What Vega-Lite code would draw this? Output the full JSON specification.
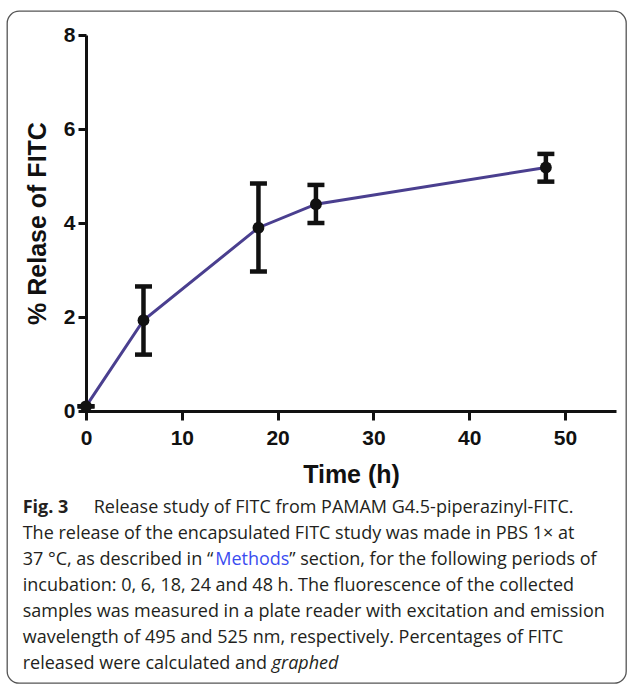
{
  "$schema": "https://vega.github.io/schema/vega-lite/v6.json",
  "width": 619,
  "height": 672,
  "autosize": {"type": "none"},
  "padding": {"left": 7, "top": 11, "right": 1, "bottom": 2},
  "background": "white",
  "config": {
    "view": {"stroke": "#555555", "strokeWidth": 1.3, "cornerRadius": 12},
    "font": "Liberation Sans"
  },
  "datasets": {
    "release": [
      {"time": 0, "release": 0.1, "lo": 0.1, "hi": 0.1},
      {"time": 6, "release": 1.93, "lo": 1.2, "hi": 2.65},
      {"time": 18, "release": 3.9, "lo": 2.97, "hi": 4.84},
      {"time": 24, "release": 4.4, "lo": 4.0, "hi": 4.81},
      {"time": 48, "release": 5.18, "lo": 4.88, "hi": 5.47}
    ],
    "caption": [
      {"line": 1, "part": "lead", "text": "Fig. 3"},
      {"line": 1, "part": "after_lead", "text": "Release study of FITC from PAMAM G4.5-piperazinyl-FITC."},
      {"line": 2, "part": "body", "text": "The release of the encapsulated FITC study was made in PBS 1× at"},
      {"line": 3, "part": "body", "text": "37 °C, as described in “"},
      {"line": 3, "part": "link", "text": "Methods"},
      {"line": 3, "part": "after_link", "text": "” section, for the following periods of"},
      {"line": 4, "part": "body", "text": "incubation: 0, 6, 18, 24 and 48 h. The fluorescence of the collected"},
      {"line": 5, "part": "body", "text": "samples was measured in a plate reader with excitation and emission"},
      {"line": 6, "part": "body", "text": "wavelength of 495 and 525 nm, respectively. Percentages of FITC"},
      {"line": 7, "part": "body", "text": "released were calculated and"},
      {"line": 7, "part": "emph", "text": "graphed"}
    ]
  },
  "layer": [
    {
      "data": {"name": "release"},
      "encoding": {
        "x": {
          "field": "time",
          "type": "quantitative",
          "scale": {"domain": [0, 55.32], "range": [79, 609], "nice": false, "zero": false},
          "axis": {
            "orient": "bottom",
            "offset": -272,
            "values": [0, 10, 20, 30, 40, 50],
            "format": "d",
            "grid": false,
            "domainWidth": 3,
            "domainColor": "#111111",
            "tickWidth": 3,
            "tickColor": "#111111",
            "tickSize": 9,
            "labelFont": "Liberation Sans",
            "labelFontWeight": "bold",
            "labelFontSize": 21,
            "labelColor": "#111111",
            "labelPadding": 7,
            "labelFlush": false,
            "labelOverlap": false,
            "title": "Time (h)",
            "titleFont": "Liberation Sans",
            "titleFontSize": 25,
            "titleFontWeight": "bold",
            "titleColor": "#111111",
            "titlePadding": 14
          }
        }
      },
      "layer": [
        {
          "mark": {"type": "line", "color": "#4a3f8f", "strokeWidth": 3},
          "encoding": {
            "y": {
              "field": "release",
              "type": "quantitative",
              "title": "% Relase of FITC",
              "scale": {"domain": [0, 8], "range": [400, 24], "nice": false, "zero": false},
              "axis": {
                "orient": "left",
                "offset": -79,
                "values": [0, 2, 4, 6, 8],
                "format": "d",
                "grid": false,
                "domainWidth": 3,
                "domainColor": "#111111",
                "tickWidth": 3,
                "tickColor": "#111111",
                "tickSize": 8,
                "labelFont": "Liberation Sans",
                "labelFontWeight": "bold",
                "labelFontSize": 21,
                "labelColor": "#111111",
                "labelPadding": 3,
                "labelFlush": false,
                "labelOverlap": false,
                "title": "% Relase of FITC",
                "titleFont": "Liberation Sans",
                "titleFontSize": 25,
                "titleFontWeight": "bold",
                "titleColor": "#111111",
                "titlePadding": 13
              }
            }
          }
        },
        {
          "mark": {"type": "rule", "color": "#111111", "strokeWidth": 4.5},
          "encoding": {
            "y": {"field": "lo", "type": "quantitative", "title": "% Relase of FITC"},
            "y2": {"field": "hi"}
          }
        },
        {
          "mark": {"type": "tick", "orient": "horizontal", "color": "#111111", "size": 17, "thickness": 4.5, "opacity": 1},
          "encoding": {"y": {"field": "lo", "type": "quantitative", "title": "% Relase of FITC"}}
        },
        {
          "mark": {"type": "tick", "orient": "horizontal", "color": "#111111", "size": 17, "thickness": 4.5, "opacity": 1},
          "encoding": {"y": {"field": "hi", "type": "quantitative", "title": "% Relase of FITC"}}
        },
        {
          "mark": {"type": "point", "shape": "circle", "filled": true, "color": "#111111", "size": 140, "opacity": 1},
          "encoding": {"y": {"field": "release", "type": "quantitative", "title": "% Relase of FITC"}}
        }
      ]
    },
    {
      "data": {"name": "caption"},
      "encoding": {
        "y": {
          "field": "line",
          "type": "quantitative",
          "scale": {"domain": [1, 7], "range": [496.5, 652.5], "nice": false, "zero": false},
          "axis": null
        },
        "x": {"value": 15.7},
        "text": {"field": "text"}
      },
      "layer": [
        {
          "transform": [{"filter": "datum.part === 'body'"}],
          "mark": {"type": "text", "align": "left", "baseline": "middle", "font": "Open Sans", "fontSize": 18, "color": "#231f20"}
        },
        {
          "transform": [{"filter": "datum.part === 'lead'"}],
          "mark": {"type": "text", "align": "left", "baseline": "middle", "font": "Open Sans", "fontSize": 18, "fontWeight": "bold", "color": "#231f20"}
        },
        {
          "transform": [{"filter": "datum.part === 'after_lead'"}],
          "mark": {"type": "text", "align": "left", "baseline": "middle", "dx": 71, "font": "Open Sans", "fontSize": 18, "color": "#231f20"}
        },
        {
          "transform": [{"filter": "datum.part === 'link'"}],
          "mark": {"type": "text", "align": "left", "baseline": "middle", "dx": 192.5, "font": "Open Sans", "fontSize": 18, "color": "#3a4cf0"}
        },
        {
          "transform": [{"filter": "datum.part === 'after_link'"}],
          "mark": {"type": "text", "align": "left", "baseline": "middle", "dx": 266.5, "font": "Open Sans", "fontSize": 18, "color": "#231f20"}
        },
        {
          "transform": [{"filter": "datum.part === 'emph'"}],
          "mark": {"type": "text", "align": "left", "baseline": "middle", "dx": 249, "font": "Open Sans", "fontSize": 18, "fontStyle": "italic", "color": "#231f20"}
        }
      ]
    }
  ],
  "resolve": {"scale": {"y": "independent"}, "axis": {"y": "independent"}}
}
